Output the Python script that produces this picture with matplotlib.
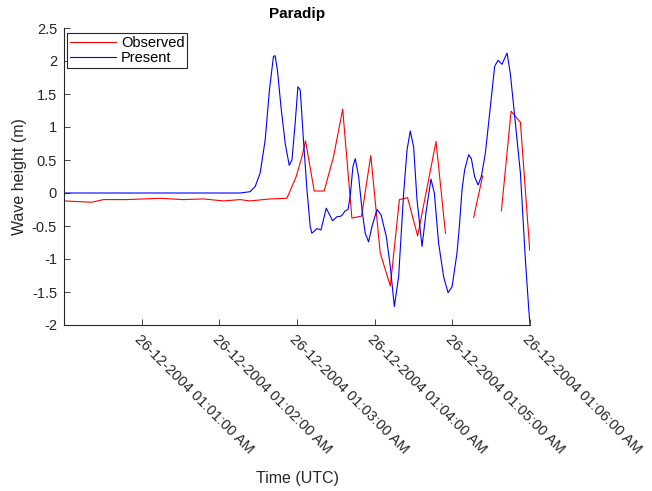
import numpy as np
import pandas as pd
import matplotlib
matplotlib.use("Agg")
import matplotlib.pyplot as plt
import matplotlib.dates as mdates

plt.rcParams['font.family'] = ['Liberation Sans', 'DejaVu Sans']

# seconds after 26-12-2004 01:00:00 and wave height (m)
obs_sec = [0, 21.4, 30.4, 48.5, 74.2, 92.2, 107.7, 123.2, 136.1, 143.8, 159.3, 172.2,
           179.4, 183.8, 186.6, 193.3, 201.0, 208.2, 215.3, 222.4, 229.9, 237.0,
           244.3, 252.1, 259.1, 265.4, 273.2, 287.4, 294.7, 305.0,
           316.5, 323.4, 330.0,
           337.9, 345.4, 352.6, 359.8]
obs_val = [-0.12, -0.14, -0.10, -0.10, -0.08, -0.10, -0.09, -0.12, -0.10, -0.12, -0.09, -0.08,
           0.25, 0.55, 0.79, 0.03, 0.03, 0.55, 1.27, -0.38, -0.35, 0.57,
           -0.91, -1.41, -0.10, -0.07, -0.65, 0.78, -0.61, np.nan,
           -0.37, 0.26, np.nan,
           -0.27, 1.24, 1.07, -0.87]

sim_sec = [0, 136.1, 143.8, 147.7, 151.5, 155.4, 158.7, 161.8, 163.1, 164.9, 167.6, 170.9,
           174.0, 176.1, 178.6, 180.7, 182.5, 185.0, 187.7, 190.2, 191.5, 195.4, 198.5,
           202.6, 207.5, 210.9, 214.2, 217.3, 219.4, 221.1, 223.2, 225.0, 227.6, 230.2,
           232.7, 235.3, 237.9, 241.8, 244.9, 249.0, 252.1, 255.2, 258.5, 262.4, 265.0,
           267.5, 270.1, 272.7, 276.6, 279.9, 283.5, 286.1, 289.4, 293.3, 296.7, 299.8,
           303.6, 305.4, 307.5, 309.5, 312.6, 314.7, 317.2, 319.9, 322.4, 325.5, 329.4,
           332.7, 335.3, 338.4, 340.4, 342.3, 344.8, 348.7, 352.6, 356.4, 359.0, 360.0]
sim_val = [0.0, 0.0, 0.02, 0.10, 0.30, 0.80, 1.56, 2.07, 2.08, 1.86, 1.31, 0.75,
           0.42, 0.50, 1.06, 1.61, 1.56, 0.80, 0.05, -0.51, -0.61, -0.54, -0.56,
           -0.23, -0.42, -0.36, -0.35, -0.27, -0.25, -0.05, 0.40, 0.52, 0.25, -0.25,
           -0.61, -0.74, -0.51, -0.25, -0.33, -0.66, -1.12, -1.72, -1.27, 0.0, 0.65,
           0.94, 0.70, -0.10, -0.81, -0.26, 0.21, 0.0, -0.76, -1.27, -1.51, -1.42,
           -0.91, -0.51, 0.05, 0.35, 0.58, 0.52, 0.25, 0.12, 0.25, 0.60, 1.31,
           1.92, 2.01, 1.95, 2.04, 2.12, 1.81, 1.06, 0.30, -1.00, -1.75, -2.0]

start = pd.Timestamp('2004-12-26 01:00:00')
obs_t = start + pd.to_timedelta(obs_sec, unit='s')
sim_t = start + pd.to_timedelta(sim_sec, unit='s')

fig = plt.figure(figsize=(6.52, 4.91), dpi=100)
ax = fig.add_axes([64 / 652, 166 / 491, 466 / 652, 297 / 491])

ax.plot(obs_t, obs_val, color='#ff0000', lw=0.8, label='Observed')
ax.plot(sim_t, sim_val, color='#0000ff', lw=0.8, label='Present')

ax.set_xlim(start, start + pd.Timedelta(minutes=6))
ax.set_ylim(-2, 2.5)
ax.set_yticks(np.arange(-2, 2.51, 0.5))
ax.set_yticklabels(['-2', '-1.5', '-1', '-0.5', '0', '0.5', '1', '1.5', '2', '2.5'])
ax.xaxis.set_major_locator(mdates.MinuteLocator(byminute=range(1, 7)))
ax.xaxis.set_major_formatter(mdates.DateFormatter('%d-%m-%Y %I:%M:%S %p'))
plt.setp(ax.get_xticklabels(), rotation=-45, ha='left', va='top', rotation_mode='anchor')

gray = '#262626'
for side in ['top', 'right']:
    ax.spines[side].set_visible(False)
for side in ['left', 'bottom']:
    ax.spines[side].set_color(gray)
    ax.spines[side].set_linewidth(0.8)
ax.tick_params(direction='in', length=4, width=0.6, colors=gray, labelsize=10.5, pad=5)

ax.set_title('Paradip', fontsize=11, fontweight='bold', pad=7)
ax.set_ylabel('Wave height (m)', fontsize=11.5, color=gray)
ax.set_xlabel('Time (UTC)', fontsize=11.5, color=gray)
ax.yaxis.set_label_coords(-0.08, 0.5)
ax.xaxis.set_label_coords(0.5, -0.49)

leg = ax.legend(loc='upper left', bbox_to_anchor=(0.006, 0.983), borderaxespad=0,
                fontsize=10.5, handlelength=3.2, handletextpad=0.3, borderpad=0.2,
                labelspacing=0.1, fancybox=False, framealpha=1)
leg.get_frame().set_edgecolor(gray)
leg.get_frame().set_linewidth(0.8)

fig.savefig('out.png', dpi=100)
